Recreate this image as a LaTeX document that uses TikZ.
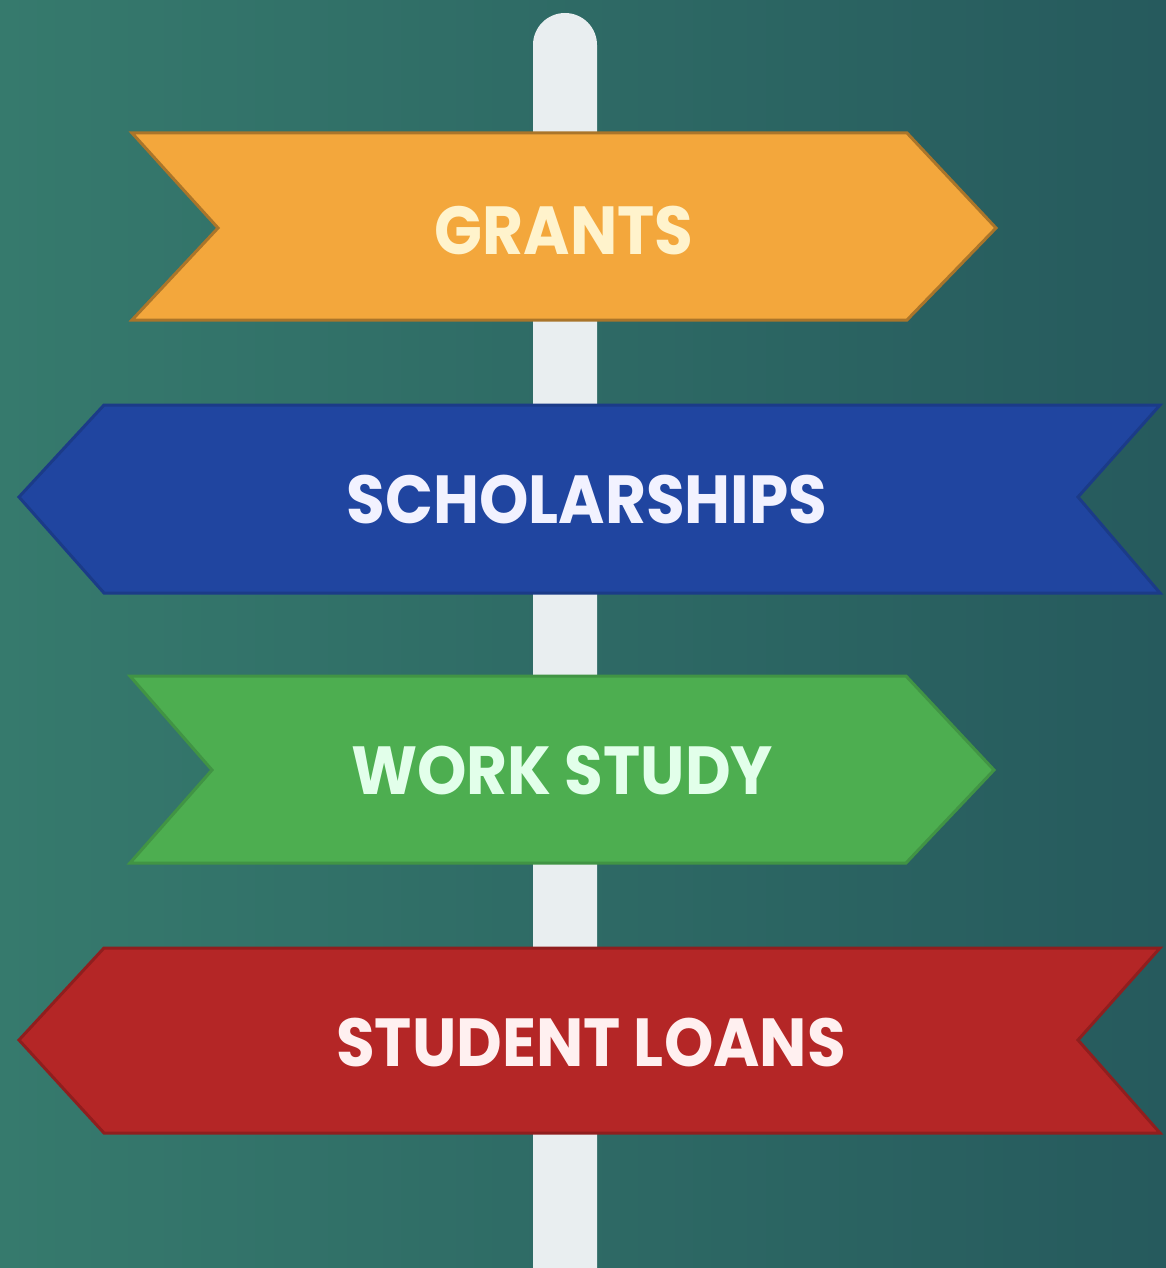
\documentclass[tikz,border=0pt]{standalone}
\usepackage{fontspec}
\setmainfont{Poppins}
\begin{document}
\begin{tikzpicture}[x=1pt,y=-1pt]
\definecolor{bgL}{HTML}{367A6D}
\definecolor{bgR}{HTML}{265A5D}
\definecolor{polec}{HTML}{E9EEF0}
\definecolor{orangec}{HTML}{F3A73C}
\definecolor{bluec}{HTML}{2045A0}
\definecolor{greenc}{HTML}{4DAE50}
\definecolor{redc}{HTML}{B42626}
\definecolor{txtO}{HTML}{FFF3CC}
\definecolor{txtB}{HTML}{F2F2FF}
\definecolor{txtG}{HTML}{E2FFEA}
\definecolor{txtR}{HTML}{FFF0F0}
\tikzset{
  signshape/.style={line width=3pt, line join=miter},
  signtext/.style={font=\bfseries\fontsize{68}{68}\selectfont, inner sep=0pt, anchor=center}
}
\newcommand{\narrow}[1]{\scalebox{0.925}[1]{#1}}
\useasboundingbox (0,0) rectangle (1166,1268);
\clip (0,0) rectangle (1166,1268);
\shade[left color=bgL, right color=bgR] (0,0) rectangle (1166,1268);
% pole
\fill[polec, rounded corners=32pt] (533,1330) rectangle (597,13);
% signs
\filldraw[signshape, fill=orangec, draw=orangec!70!black] (132,133) -- (907,133) -- (996,228) -- (907,320) -- (132,320) -- (218,228) -- cycle;
\filldraw[signshape, fill=bluec, draw=bluec!85!black] (104,405) -- (1160,405) -- (1078,497) -- (1160,593) -- (104,593) -- (19,497) -- cycle;
\filldraw[signshape, fill=greenc, draw=greenc!85!black] (130,676) -- (906,676) -- (994,770) -- (906,863) -- (130,863) -- (212,770) -- cycle;
\filldraw[signshape, fill=redc, draw=redc!80!black] (104,948) -- (1160,948) -- (1078,1040) -- (1160,1133) -- (104,1133) -- (19,1040) -- cycle;
% labels
\node[signtext, text=txtO] (grants) at (564,231) {\narrow{GRANTS}};
\node[signtext, text=txtB] (scholarships) at (587,500) {\narrow{SCHOLARSHIPS}};
\node[signtext, text=txtG] (workstudy) at (562,771) {\narrow{WORK STUDY}};
\node[signtext, text=txtR] (loans) at (591,1043) {\narrow{STUDENT LOANS}};
\end{tikzpicture}
\end{document}
